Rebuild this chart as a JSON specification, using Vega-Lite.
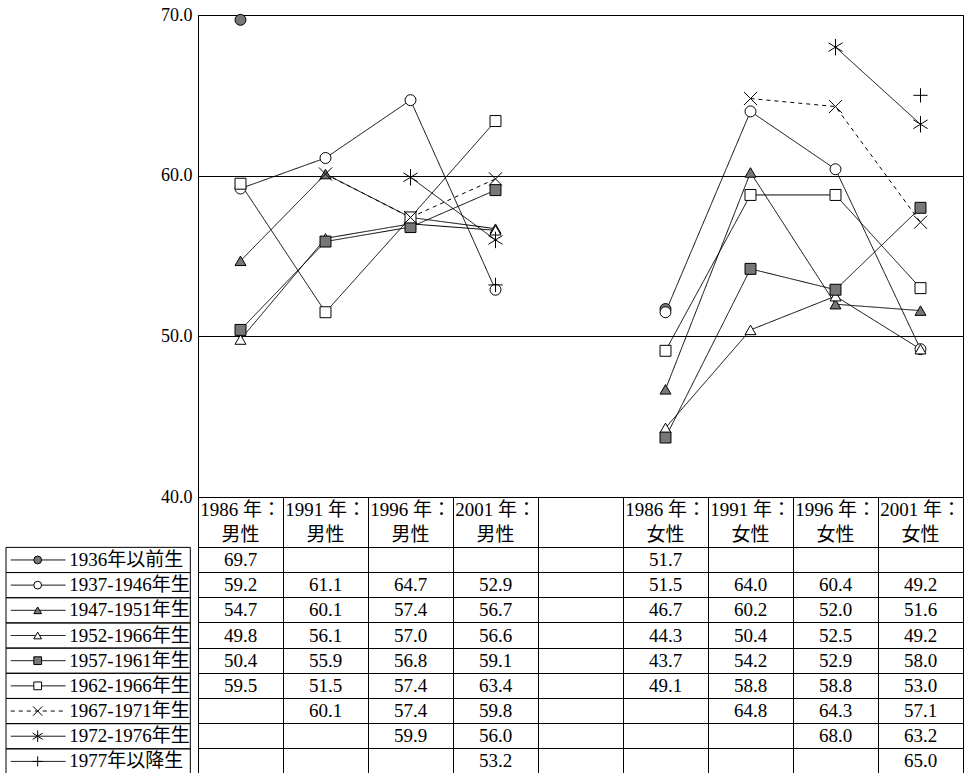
{
  "$schema": "https://vega.github.io/schema/vega-lite/v6.json",
  "padding": {"left": 5, "top": 5, "right": 3, "bottom": 0},
  "config": {"view": {"stroke": null}, "font": "Liberation Serif"},
  "datasets": {
    "vals": [
      {"s": "1936年以前生", "c": "M1986", "g": "M", "v": 69.7},
      {"s": "1936年以前生", "c": "F1986", "g": "F", "v": 51.7},
      {"s": "1937-1946年生", "c": "M1986", "g": "M", "v": 59.2},
      {"s": "1937-1946年生", "c": "M1991", "g": "M", "v": 61.1},
      {"s": "1937-1946年生", "c": "M1996", "g": "M", "v": 64.7},
      {"s": "1937-1946年生", "c": "M2001", "g": "M", "v": 52.9},
      {"s": "1937-1946年生", "c": "F1986", "g": "F", "v": 51.5},
      {"s": "1937-1946年生", "c": "F1991", "g": "F", "v": 64.0},
      {"s": "1937-1946年生", "c": "F1996", "g": "F", "v": 60.4},
      {"s": "1937-1946年生", "c": "F2001", "g": "F", "v": 49.2},
      {"s": "1947-1951年生", "c": "M1986", "g": "M", "v": 54.7},
      {"s": "1947-1951年生", "c": "M1991", "g": "M", "v": 60.1},
      {"s": "1947-1951年生", "c": "M1996", "g": "M", "v": 57.4},
      {"s": "1947-1951年生", "c": "M2001", "g": "M", "v": 56.7},
      {"s": "1947-1951年生", "c": "F1986", "g": "F", "v": 46.7},
      {"s": "1947-1951年生", "c": "F1991", "g": "F", "v": 60.2},
      {"s": "1947-1951年生", "c": "F1996", "g": "F", "v": 52.0},
      {"s": "1947-1951年生", "c": "F2001", "g": "F", "v": 51.6},
      {"s": "1952-1966年生", "c": "M1986", "g": "M", "v": 49.8},
      {"s": "1952-1966年生", "c": "M1991", "g": "M", "v": 56.1},
      {"s": "1952-1966年生", "c": "M1996", "g": "M", "v": 57.0},
      {"s": "1952-1966年生", "c": "M2001", "g": "M", "v": 56.6},
      {"s": "1952-1966年生", "c": "F1986", "g": "F", "v": 44.3},
      {"s": "1952-1966年生", "c": "F1991", "g": "F", "v": 50.4},
      {"s": "1952-1966年生", "c": "F1996", "g": "F", "v": 52.5},
      {"s": "1952-1966年生", "c": "F2001", "g": "F", "v": 49.2},
      {"s": "1957-1961年生", "c": "M1986", "g": "M", "v": 50.4},
      {"s": "1957-1961年生", "c": "M1991", "g": "M", "v": 55.9},
      {"s": "1957-1961年生", "c": "M1996", "g": "M", "v": 56.8},
      {"s": "1957-1961年生", "c": "M2001", "g": "M", "v": 59.1},
      {"s": "1957-1961年生", "c": "F1986", "g": "F", "v": 43.7},
      {"s": "1957-1961年生", "c": "F1991", "g": "F", "v": 54.2},
      {"s": "1957-1961年生", "c": "F1996", "g": "F", "v": 52.9},
      {"s": "1957-1961年生", "c": "F2001", "g": "F", "v": 58.0},
      {"s": "1962-1966年生", "c": "M1986", "g": "M", "v": 59.5},
      {"s": "1962-1966年生", "c": "M1991", "g": "M", "v": 51.5},
      {"s": "1962-1966年生", "c": "M1996", "g": "M", "v": 57.4},
      {"s": "1962-1966年生", "c": "M2001", "g": "M", "v": 63.4},
      {"s": "1962-1966年生", "c": "F1986", "g": "F", "v": 49.1},
      {"s": "1962-1966年生", "c": "F1991", "g": "F", "v": 58.8},
      {"s": "1962-1966年生", "c": "F1996", "g": "F", "v": 58.8},
      {"s": "1962-1966年生", "c": "F2001", "g": "F", "v": 53.0},
      {"s": "1967-1971年生", "c": "M1991", "g": "M", "v": 60.1},
      {"s": "1967-1971年生", "c": "M1996", "g": "M", "v": 57.4},
      {"s": "1967-1971年生", "c": "M2001", "g": "M", "v": 59.8},
      {"s": "1967-1971年生", "c": "F1991", "g": "F", "v": 64.8},
      {"s": "1967-1971年生", "c": "F1996", "g": "F", "v": 64.3},
      {"s": "1967-1971年生", "c": "F2001", "g": "F", "v": 57.1},
      {"s": "1972-1976年生", "c": "M1996", "g": "M", "v": 59.9},
      {"s": "1972-1976年生", "c": "M2001", "g": "M", "v": 56.0},
      {"s": "1972-1976年生", "c": "F1996", "g": "F", "v": 68.0},
      {"s": "1972-1976年生", "c": "F2001", "g": "F", "v": 63.2},
      {"s": "1977年以降生", "c": "M2001", "g": "M", "v": 53.2},
      {"s": "1977年以降生", "c": "F2001", "g": "F", "v": 65.0}
    ],
    "series": [
      {"s": "1936年以前生"}, {"s": "1937-1946年生"}, {"s": "1947-1951年生"},
      {"s": "1952-1966年生"}, {"s": "1957-1961年生"}, {"s": "1962-1966年生"},
      {"s": "1967-1971年生"}, {"s": "1972-1976年生"}, {"s": "1977年以降生"}
    ],
    "header": [
      {"c": "M1986", "r": "h1", "t": "1986 年："}, {"c": "M1986", "r": "h2", "t": "男性"},
      {"c": "M1991", "r": "h1", "t": "1991 年："}, {"c": "M1991", "r": "h2", "t": "男性"},
      {"c": "M1996", "r": "h1", "t": "1996 年："}, {"c": "M1996", "r": "h2", "t": "男性"},
      {"c": "M2001", "r": "h1", "t": "2001 年："}, {"c": "M2001", "r": "h2", "t": "男性"},
      {"c": "F1986", "r": "h1", "t": "1986 年："}, {"c": "F1986", "r": "h2", "t": "女性"},
      {"c": "F1991", "r": "h1", "t": "1991 年："}, {"c": "F1991", "r": "h2", "t": "女性"},
      {"c": "F1996", "r": "h1", "t": "1996 年："}, {"c": "F1996", "r": "h2", "t": "女性"},
      {"c": "F2001", "r": "h1", "t": "2001 年："}, {"c": "F2001", "r": "h2", "t": "女性"}
    ]
  },
  "columns": 2,
  "spacing": 0,
  "bounds": "flush",
  "resolve": {"scale": {"x": "independent", "y": "independent"}},
  "concat": [
    {
      "width": 192, "height": 482,
      "data": {"values": []},
      "mark": "text",
      "encoding": {}
    },
    {
      "width": 765, "height": 482,
      "view": {"stroke": "black"},
      "data": {"name": "vals"},
      "encoding": {
        "x": {"field": "c", "type": "nominal", "axis": null,
          "scale": {"type": "point", "padding": 0.5,
            "domain": ["M1986", "M1991", "M1996", "M2001", "gap", "F1986", "F1991", "F1996", "F2001"]}},
        "y": {"field": "v", "type": "quantitative",
          "scale": {"domain": [40, 70]},
          "axis": {"title": null, "values": [40, 50, 60, 70], "format": ".1f", "ticks": false,
            "labelFontSize": 18, "labelPadding": 6, "domainColor": "black",
            "gridColor": {"condition": {"test": "datum.value === 40", "value": "transparent"}, "value": "black"}}}
      },
      "layer": [
        {
          "mark": {"type": "line", "color": "black", "strokeWidth": 1},
          "encoding": {
            "detail": {"field": "g"},
            "strokeDash": {"field": "s", "legend": null,
              "scale": {"domain": ["1936年以前生", "1937-1946年生", "1947-1951年生", "1952-1966年生", "1957-1961年生", "1962-1966年生", "1967-1971年生", "1972-1976年生", "1977年以降生"],
                "range": [[1, 0], [1, 0], [1, 0], [1, 0], [1, 0], [1, 0], [4, 4], [1, 0], [1, 0]]}}
          }
        },
        {
          "mark": {"type": "point", "stroke": "black", "strokeWidth": 1, "size": 120, "opacity": 1},
          "encoding": {
            "shape": {"field": "s", "legend": null,
              "scale": {"domain": ["1936年以前生", "1937-1946年生", "1947-1951年生", "1952-1966年生", "1957-1961年生", "1962-1966年生", "1967-1971年生", "1972-1976年生", "1977年以降生"],
                "range": ["circle", "circle", "triangle-up", "triangle-up", "square", "square",
                  "M-1.2,-1.2L1.2,1.2M1.2,-1.2L-1.2,1.2",
                  "M0,-1.5L0,1.5M-1.3,-0.8L1.3,0.8M1.3,-0.8L-1.3,0.8",
                  "M-1.3,0L1.3,0M0,-1.3L0,1.3"]}},
            "fill": {"field": "s", "legend": null,
              "scale": {"domain": ["1936年以前生", "1937-1946年生", "1947-1951年生", "1952-1966年生", "1957-1961年生", "1962-1966年生", "1967-1971年生", "1972-1976年生", "1977年以降生"],
                "range": ["#777", "white", "#777", "white", "#777", "white", "transparent", "transparent", "transparent"]}}
          }
        }
      ]
    },
    {
      "width": 192, "height": 277,
      "data": {"name": "series"},
      "encoding": {
        "y": {"field": "s", "type": "nominal", "axis": null,
          "scale": {"type": "band", "paddingInner": 0, "paddingOuter": 0,
            "domain": ["h1", "h2", "1936年以前生", "1937-1946年生", "1947-1951年生", "1952-1966年生", "1957-1961年生", "1962-1966年生", "1967-1971年生", "1972-1976年生", "1977年以降生"]}}
      },
      "layer": [
        {
          "mark": {"type": "rect", "fill": null, "stroke": "black", "strokeWidth": 1},
          "encoding": {
            "x": {"datum": 0, "type": "quantitative", "scale": {"domain": [0, 192]}, "axis": null},
            "x2": {"datum": 192}
          }
        },
        {
          "mark": {"type": "rule", "color": "black", "strokeWidth": 1},
          "encoding": {
            "x": {"datum": 5, "type": "quantitative"},
            "x2": {"datum": 62},
            "strokeDash": {"field": "s", "legend": null,
              "scale": {"domain": ["1936年以前生", "1937-1946年生", "1947-1951年生", "1952-1966年生", "1957-1961年生", "1962-1966年生", "1967-1971年生", "1972-1976年生", "1977年以降生"],
                "range": [[1, 0], [1, 0], [1, 0], [1, 0], [1, 0], [1, 0], [3, 3], [1, 0], [1, 0]]}}
          }
        },
        {
          "mark": {"type": "point", "stroke": "black", "strokeWidth": 1, "size": 60, "opacity": 1},
          "encoding": {
            "x": {"datum": 33, "type": "quantitative"},
            "shape": {"field": "s", "legend": null,
              "scale": {"domain": ["1936年以前生", "1937-1946年生", "1947-1951年生", "1952-1966年生", "1957-1961年生", "1962-1966年生", "1967-1971年生", "1972-1976年生", "1977年以降生"],
                "range": ["circle", "circle", "triangle-up", "triangle-up", "square", "square",
                  "M-1.1,-1.1L1.1,1.1M1.1,-1.1L-1.1,1.1",
                  "M0,-1.4L0,1.4M-1.2,-0.75L1.2,0.75M1.2,-0.75L-1.2,0.75",
                  "M-1.3,0L1.3,0M0,-1.3L0,1.3"]}},
            "fill": {"field": "s", "legend": null,
              "scale": {"domain": ["1936年以前生", "1937-1946年生", "1947-1951年生", "1952-1966年生", "1957-1961年生", "1962-1966年生", "1967-1971年生", "1972-1976年生", "1977年以降生"],
                "range": ["#777", "white", "#777", "white", "#777", "white", "white", "white", "white"]}}
          }
        },
        {
          "mark": {"type": "text", "align": "left", "baseline": "middle", "fontSize": 19,
            "font": "Liberation Serif, Noto Sans CJK JP"},
          "encoding": {
            "x": {"datum": 66, "type": "quantitative"},
            "text": {"field": "s"}
          }
        }
      ]
    },
    {
      "width": 765, "height": 277,
      "view": {"stroke": "black"},
      "encoding": {
        "x": {"field": "c", "type": "nominal",
          "scale": {"type": "band", "paddingInner": 0, "paddingOuter": 0,
            "domain": ["M1986", "M1991", "M1996", "M2001", "gap", "F1986", "F1991", "F1996", "F2001"]},
          "axis": {"title": null, "labels": false, "ticks": false, "domain": false, "grid": true,
            "bandPosition": 0, "gridColor": "black", "gridOpacity": 1}}
      },
      "layer": [
        {
          "data": {"name": "vals"},
          "mark": {"type": "text", "fontSize": 19, "font": "Liberation Serif", "baseline": "middle"},
          "encoding": {
            "y": {"field": "s", "type": "nominal",
              "scale": {"type": "band", "paddingInner": 0, "paddingOuter": 0,
                "domain": ["h1", "h2", "1936年以前生", "1937-1946年生", "1947-1951年生", "1952-1966年生", "1957-1961年生", "1962-1966年生", "1967-1971年生", "1972-1976年生", "1977年以降生"]},
              "axis": {"title": null, "labels": false, "ticks": false, "domain": false, "grid": true,
                "bandPosition": 0, "gridOpacity": 1,
                "gridColor": {"condition": {"test": "datum.value === 'h2' || datum.value === 'h1'", "value": "transparent"}, "value": "black"}}},
            "text": {"field": "v", "type": "quantitative", "format": ".1f"}
          }
        },
        {
          "data": {"name": "header"},
          "mark": {"type": "text", "fontSize": 19, "font": "Liberation Serif, Noto Sans CJK JP", "baseline": "middle"},
          "encoding": {
            "y": {"field": "r", "type": "nominal"},
            "text": {"field": "t"}
          }
        }
      ]
    }
  ]
}
